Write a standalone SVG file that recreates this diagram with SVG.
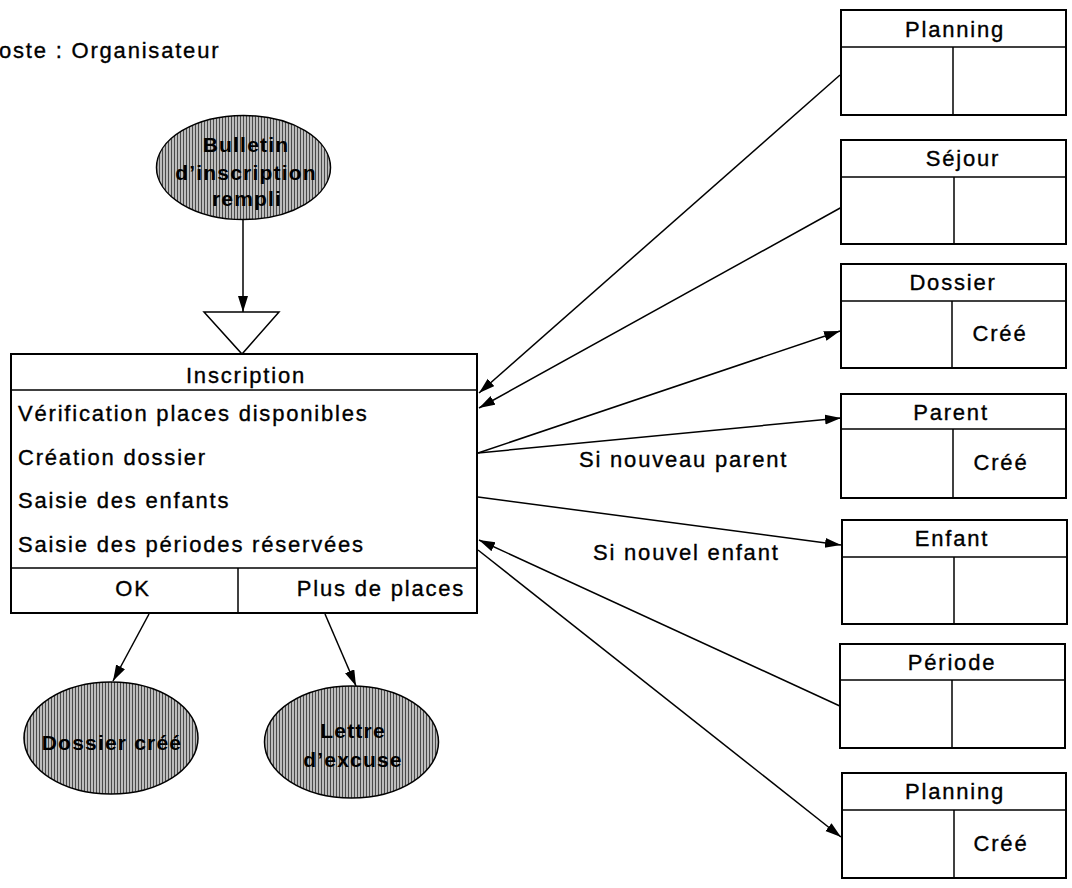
<svg xmlns="http://www.w3.org/2000/svg" width="1072" height="888" viewBox="0 0 1072 888">
<style>
.t{font-family:"Liberation Sans",Arial,sans-serif;font-size:22px;letter-spacing:1.8px;fill:#000;stroke:#000;stroke-width:0.35}
.c{text-anchor:middle}
.b{font-family:"Liberation Sans",Arial,sans-serif;font-weight:bold;font-size:21px;letter-spacing:1.2px;fill:#000;text-anchor:middle}
.box{fill:#fff;stroke:#000;stroke-width:2}
.ln{stroke:#000;stroke-width:1.5;fill:none}
.ell{fill:url(#hatch);stroke:#000;stroke-width:1.5}
.con{stroke:#000;stroke-width:1.5;fill:none;marker-end:url(#arr)}
</style>
<defs>
<pattern id="hatch" width="3" height="3" patternUnits="userSpaceOnUse">
<rect width="3" height="3" fill="#bdbdbd"/>
<rect width="1" height="3" fill="#4a4a4a"/>
</pattern>
<marker id="arr" markerWidth="17" markerHeight="11" refX="16" refY="5" orient="auto" markerUnits="userSpaceOnUse">
<path d="M0,0 L16,5 L0,10 z" fill="#000"/>
</marker>
</defs>
<rect width="1072" height="888" fill="#fff"/>

<text class="t" x="-1" y="58">oste : Organisateur</text>

<g id="connectors">
<line class="con" x1="840" y1="75" x2="479" y2="393"/>
<line class="con" x1="842" y1="207" x2="479" y2="408"/>
<line class="con" x1="478" y1="453" x2="840" y2="331"/>
<line class="con" x1="478" y1="453" x2="841" y2="418"/>
<line class="con" x1="478" y1="497" x2="841" y2="545"/>
<line class="con" x1="842" y1="707" x2="479" y2="540"/>
<line class="con" x1="478" y1="550" x2="841" y2="837"/>
<line class="con" x1="243" y1="220" x2="243" y2="312"/>
<line class="con" x1="149" y1="614" x2="113" y2="681"/>
<line class="con" x1="325" y1="614" x2="356" y2="686"/>
<text class="t" x="579" y="467">Si nouveau parent</text>
<text class="t" x="593" y="560">Si nouvel enfant</text>
</g>

<g id="bulletin">
<ellipse class="ell" cx="243.5" cy="167.5" rx="87" ry="52"/>
<text class="b" x="246" y="152">Bulletin</text>
<text class="b" x="246" y="180">d’inscription</text>
<text class="b" x="247" y="206">rempli</text>
</g>

<g id="sync">
<polygon points="204,312 279,312 242,354" fill="#fff" stroke="#000" stroke-width="1.5"/>
</g>

<g id="inscription">
<rect class="box" x="11" y="354" width="466" height="259"/>
<line class="ln" x1="11" y1="390" x2="477" y2="390"/>
<line class="ln" x1="11" y1="568" x2="477" y2="568"/>
<line class="ln" x1="238" y1="568" x2="238" y2="613"/>
<text class="t c" x="246" y="383">Inscription</text>
<text class="t" x="18" y="421">Vérification places disponibles</text>
<text class="t" x="18" y="465">Création dossier</text>
<text class="t" x="18" y="508">Saisie des enfants</text>
<text class="t" x="18" y="552">Saisie des périodes réservées</text>
<text class="t c" x="133" y="596">OK</text>
<text class="t c" x="381" y="596">Plus de places</text>
</g>

<g id="dossier-cree">
<ellipse class="ell" cx="111" cy="738" rx="87" ry="56"/>
<text class="b" x="112" y="750">Dossier créé</text>
</g>

<g id="lettre-excuse">
<ellipse class="ell" cx="351.5" cy="742" rx="87" ry="56"/>
<text class="b" x="353" y="738">Lettre</text>
<text class="b" x="353" y="767">d’excuse</text>
</g>

<g id="planning1">
<rect class="box" x="841" y="10" width="225" height="105"/>
<line class="ln" x1="841" y1="47" x2="1066" y2="47"/>
<line class="ln" x1="953" y1="47" x2="953" y2="115"/>
<text class="t c" x="955" y="37">Planning</text>
</g>

<g id="sejour">
<rect class="box" x="841" y="140" width="225" height="104"/>
<line class="ln" x1="841" y1="177" x2="1066" y2="177"/>
<line class="ln" x1="954" y1="177" x2="954" y2="244"/>
<text class="t c" x="963" y="166">Séjour</text>
</g>

<g id="dossier">
<rect class="box" x="841" y="264" width="225" height="104"/>
<line class="ln" x1="841" y1="301" x2="1066" y2="301"/>
<line class="ln" x1="952" y1="301" x2="952" y2="368"/>
<text class="t c" x="953" y="290">Dossier</text>
<text class="t c" x="1000" y="341">Créé</text>
</g>

<g id="parent">
<rect class="box" x="841" y="394" width="225" height="104"/>
<line class="ln" x1="841" y1="429" x2="1066" y2="429"/>
<line class="ln" x1="953" y1="429" x2="953" y2="498"/>
<text class="t c" x="951" y="420">Parent</text>
<text class="t c" x="1001" y="470">Créé</text>
</g>

<g id="enfant">
<rect class="box" x="842" y="520" width="225" height="104"/>
<line class="ln" x1="842" y1="557" x2="1067" y2="557"/>
<line class="ln" x1="954" y1="557" x2="954" y2="624"/>
<text class="t c" x="952" y="546">Enfant</text>
</g>

<g id="periode">
<rect class="box" x="840" y="644" width="225" height="104"/>
<line class="ln" x1="840" y1="680" x2="1065" y2="680"/>
<line class="ln" x1="952" y1="680" x2="952" y2="748"/>
<text class="t c" x="952" y="670">Période</text>
</g>

<g id="planning2">
<rect class="box" x="842" y="773" width="224" height="105"/>
<line class="ln" x1="842" y1="810" x2="1066" y2="810"/>
<line class="ln" x1="954" y1="810" x2="954" y2="878"/>
<text class="t c" x="955" y="799">Planning</text>
<text class="t c" x="1001" y="851">Créé</text>
</g>
</svg>
